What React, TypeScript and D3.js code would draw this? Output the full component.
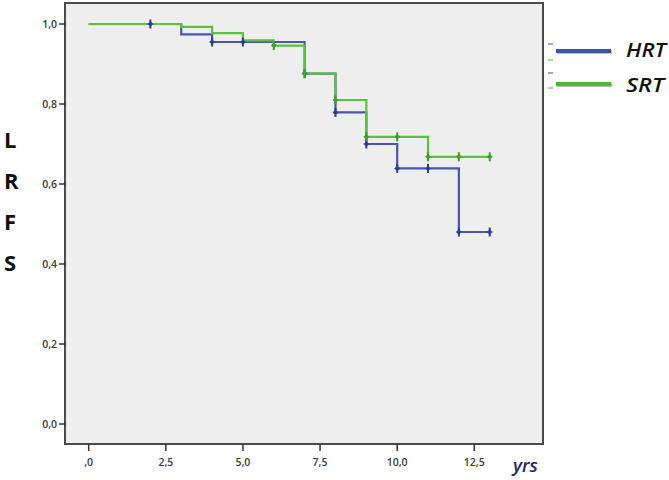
import React from 'react';
import * as d3 from 'd3';

// Kaplan-Meier step data
const hrtTimes = [0, 3, 4, 7, 8, 9, 10, 12];
const hrtSurv = [1.0, 0.974, 0.955, 0.876, 0.779, 0.70, 0.639, 0.48];
const hrtCensor = [2, 4, 5, 7, 8, 9, 10, 11, 12, 13];

const srtTimes = [0, 3, 4, 5, 6, 7, 8, 9, 11];
const srtSurv = [1.0, 0.993, 0.977, 0.959, 0.946, 0.876, 0.81, 0.718, 0.668];
const srtCensor = [6, 7, 8, 9, 10, 11, 12, 13];

const endTime = 13;
const xTicks = [0, 2.5, 5, 7.5, 10, 12.5];
const xTickLabels = [',0', '2,5', '5,0', '7,5', '10,0', '12,5'];
const yTicks = [0, 0.2, 0.4, 0.6, 0.8, 1.0];
const yTickLabels = ['0,0', '0,2', '0,4', '0,6', '0,8', '1,0'];
const yLetters = ['L', 'R', 'F', 'S'];

const blue = '#4b56b4';
const blueDark = '#2f3a98';
const green = '#5cc23c';
const greenDark = '#3f9e2a';

function stepAt(times: number[], surv: number[], t: number) {
    let v = surv[0];
    times.forEach((tt, i) => { if (tt <= t) v = surv[i]; });
    return v;
}

function stepPath(times: number[], surv: number[], x: any, y: any) {
    let d = `M${x(times[0])},${y(surv[0])}`;
    for (let i = 1; i < times.length; i++) {
        d += `H${x(times[i])}V${y(surv[i])}`;
    }
    d += `H${x(endTime)}`;
    return d;
}

export default function App() {
    const width = 669;
    const height = 480;
    const frame = { left: 65, right: 543, top: 3, bottom: 444 };

    const xScale = d3.scaleLinear().domain([0, 12.5]).range([88.7, 474.3]);
    const yScale = d3.scaleLinear().domain([0, 1]).range([424, 24]);

    const censorMarks = (times: number[], surv: number[], cens: number[], color: string, key: string) =>
        cens.map(t => {
            const cx = xScale(t);
            const cy = yScale(stepAt(times, surv, t));
            return (
                <g key={key + t}>
                    <line x1={cx} x2={cx} y1={cy - 4.5} y2={cy + 4.5} stroke={color} strokeWidth={2} />
                    <path d={`M${cx - 3},${cy}L${cx},${cy - 2.5}L${cx + 3},${cy}L${cx},${cy + 2.5}Z`} fill={color} />
                </g>
            );
        });

    const tickFont = "'Open Sans', sans-serif";

    return (
        <svg width={width} height={height} style={{ position: 'absolute', left: 0, top: 0, background: '#fff' }}>
            <rect x={frame.left} y={frame.top} width={frame.right - frame.left} height={frame.bottom - frame.top}
                fill="#eeeeee" stroke="#4a4a4a" strokeWidth={2} />

            {/* y axis */}
            {yTicks.map((v, i) => (
                <g key={'y' + v}>
                    <line x1={frame.left - 6} x2={frame.left} y1={yScale(v)} y2={yScale(v)} stroke="#333" strokeWidth={1.5} />
                    <text x={frame.left - 8} y={yScale(v)} dy="0.35em" textAnchor="end" fontSize={10.5}
                        fontWeight={600} fontFamily={tickFont} fill="#3a3a3a">{yTickLabels[i]}</text>
                </g>
            ))}

            {/* x axis */}
            {xTicks.map((v, i) => (
                <g key={'x' + v}>
                    <line x1={xScale(v)} x2={xScale(v)} y1={frame.bottom} y2={frame.bottom + 7} stroke="#333" strokeWidth={1.5} />
                    <text x={xScale(v)} y={frame.bottom + 18} dy="0.35em" textAnchor="middle" fontSize={10.5}
                        fontWeight={600} fontFamily={tickFont} fill="#3a3a3a">{xTickLabels[i]}</text>
                </g>
            ))}
            <text x={513} y={472} fontSize={18} fontStyle="italic" fontWeight={600} fontFamily="'Open Sans', sans-serif"
                fill="#1e2a5e" textLength={25} lengthAdjust="spacingAndGlyphs">yrs</text>

            {yLetters.map((l, i) => (
                <text key={l} x={4} y={148 + i * 41} fontSize={22} fontWeight="bold"
                    fontFamily="'Open Sans', sans-serif" fill="#111">{l}</text>
            ))}

            {/* curves */}
            <path d={stepPath(hrtTimes, hrtSurv, xScale, yScale)} fill="none" stroke={blue} strokeWidth={2.2} />
            <path d={stepPath(srtTimes, srtSurv, xScale, yScale)} fill="none" stroke={green} strokeWidth={2.2} />
            {censorMarks(hrtTimes, hrtSurv, hrtCensor, blueDark, 'h')}
            {censorMarks(srtTimes, srtSurv, srtCensor, greenDark, 's')}

            {/* legend */}
            <line x1={548} x2={553} y1={44} y2={44} stroke="#7d86c8" strokeWidth={1.5} />
            <line x1={548} x2={553} y1={60} y2={60} stroke="#86cf72" strokeWidth={1.5} />
            <line x1={548} x2={553} y1={73} y2={73} stroke="#7d86c8" strokeWidth={1.5} />
            <line x1={548} x2={553} y1={88} y2={88} stroke="#86cf72" strokeWidth={1.5} />
            <line x1={557} x2={612} y1={52} y2={52} stroke="#bbb" strokeWidth={4} />
            <line x1={556} x2={611} y1={51} y2={51} stroke="#3d55a8" strokeWidth={4} />
            <line x1={557} x2={612} y1={85} y2={85} stroke="#bbb" strokeWidth={4} />
            <line x1={556} x2={611} y1={84} y2={84} stroke="#49bb2f" strokeWidth={4} />
            <text x={626} y={57} fontSize={20} fontStyle="italic" fontWeight={600} fontFamily="'Open Sans', sans-serif"
                fill="#111" textLength={40} lengthAdjust="spacingAndGlyphs">HRT</text>
            <text x={626} y={92} fontSize={20} fontStyle="italic" fontWeight={600} fontFamily="'Open Sans', sans-serif"
                fill="#111" textLength={38} lengthAdjust="spacingAndGlyphs">SRT</text>
        </svg>
    );
}
